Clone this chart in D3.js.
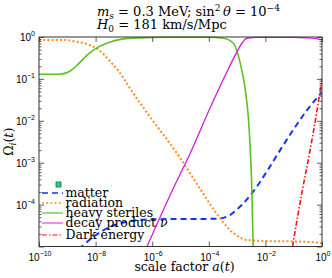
<!DOCTYPE html>
<html>
<head>
<meta charset="utf-8">
<script src="https://cdn.jsdelivr.net/npm/d3@7"></script>
<style>
  body { margin: 0; background: #fff; }
  svg { display: block; }
  .serif { font-family: 'DejaVu Serif', 'Liberation Serif', serif; }
  .tick-label { font-family: 'Liberation Sans', Arial, sans-serif; font-size: 10px; }
</style>
</head>
<body>
<svg id="chart" width="332" height="278"></svg>
<script>
'use strict';

// values, as log10(a) and log10(Omega)
var matterLogA = [-8.6, -8.49, -8.08, -7.49, -6.9, -6.0, -4.0, -3.6, -3.25, -2.9, -2.43, -1.95, -1.48, -1.0, -0.5, 0];
var matterLogOmega = [-5.06, -5.0, -4.77, -4.53, -4.41, -4.35, -4.34, -4.33, -4.25, -4.05, -3.69, -3.21, -2.70, -2.2, -1.72, -1.32];

var radiationLogA = [-10, -9.06, -8.7, -8.23, -7.88, -7.53, -7.17, -6.82, -6.47, -6.17, -5.0, -4.31, -3.6, -3.2, -2.9, -2.72, -2.0, -1.0, -0.5, 0];
var radiationLogOmega = [-0.07, -0.072, -0.11, -0.19, -0.31, -0.55, -0.83, -1.19, -1.54, -1.82, -2.9, -3.62, -4.33, -4.64, -4.78, -4.84, -4.87, -4.88, -4.89, -4.92];

var sterilesLogA = [-10, -9.29, -8.94, -8.59, -8.23, -7.88, -7.53, -7.06, -6.47, -5.5, -4.0, -3.49, -3.13, -2.9, -2.72, -2.6, -2.54, -2.48, -2.43];
var sterilesLogOmega = [-0.89, -0.89, -0.83, -0.63, -0.39, -0.23, -0.13, -0.05, -0.02, -0.006, -0.006, -0.03, -0.15, -0.59, -1.22, -1.94, -2.6, -3.6, -5.1];

var decayLogA = [-6.25, -5.28, -4.66, -3.96, -3.3, -3.01, -2.8, -2.66, -2.3, -1.0, -0.5, -0.2, 0];
var decayLogOmega = [-5.1, -3.65, -2.78, -1.70, -0.75, -0.36, -0.12, -0.03, -0.01, -0.01, -0.02, -0.04, -0.07];

var darkLogA = [-1.1, -1.04, -0.7, -0.42, -0.2, 0];
var darkLogOmega = [-5.25, -5.0, -3.68, -2.70, -1.85, -0.99];

var xTickExps = [-10, -8, -6, -4, -2, 0];
var yTickExps = [-4, -3, -2, -1, 0];

var legendNames = ['matter', 'radiation', 'heavy steriles', 'decay product', 'Dark energy'];

var seriesList = [
  {name: legendNames[0], logA: matterLogA, logOmega: matterLogOmega,
   color: '#1432ff', width: 2, dash: '6,4'},
  {name: legendNames[1], logA: radiationLogA, logOmega: radiationLogOmega,
   color: '#ff8c1e', width: 2, dash: '2,2.2'},
  {name: legendNames[2], logA: sterilesLogA, logOmega: sterilesLogOmega,
   color: '#5cbf22', width: 1.6, dash: null},
  {name: legendNames[3], logA: decayLogA, logOmega: decayLogOmega,
   color: '#d21ed2', width: 1.3, dash: null},
  {name: legendNames[4], logA: darkLogA, logOmega: darkLogOmega,
   color: '#ff1010', width: 1.6, dash: '5,2,1.5,2'}
];

var plotLeft = 39, plotRight = 322, plotTop = 37, plotBottom = 246.5;

var svg = d3.select('#chart');

var x = d3.scaleLog().domain([1e-10, 1]).range([plotLeft, plotRight]);
var y = d3.scaleLog().domain([1e-5, 1]).range([plotBottom, plotTop]);

function pow10(e) { return Math.pow(10, e); }

svg.append('defs').append('clipPath')
    .attr('id', 'plot-clip')
  .append('rect')
    .attr('x', plotLeft).attr('y', plotTop - 1)
    .attr('width', plotRight - plotLeft).attr('height', plotBottom - plotTop + 1);

// curves
var line = d3.line()
    .x(function(d) { return x(d[0]); })
    .y(function(d) { return y(d[1]); })
    .curve(d3.curveMonotoneX);

var plot = svg.append('g').attr('clip-path', 'url(#plot-clip)');

seriesList.forEach(function(s) {
  var pts = s.logA.map(function(la, i) { return [pow10(la), pow10(s.logOmega[i])]; });
  plot.append('path')
      .datum(pts)
      .attr('d', line)
      .attr('fill', 'none')
      .attr('stroke', s.color)
      .attr('stroke-width', s.width)
      .attr('stroke-dasharray', s.dash);
});

// axes, ticks pointing inward
var axisColor = '#333';
var minorY = [];
for (var e = -5; e < 0; e++) {
  for (var m = 2; m <= 9; m++) minorY.push(m * pow10(e));
}
var xTicks = xTickExps.map(pow10);
var yTicks = yTickExps.map(pow10).concat([1e-5]);

function styleAxis(g) {
  g.select('.domain').remove();
  g.selectAll('line').attr('stroke', axisColor).attr('stroke-width', 0.8);
  g.selectAll('text').remove();
}

svg.append('g').attr('transform', 'translate(0,' + plotBottom + ')')
    .call(d3.axisBottom(x).tickValues(xTicks).tickSize(-5)).call(styleAxis);
svg.append('g').attr('transform', 'translate(0,' + plotTop + ')')
    .call(d3.axisTop(x).tickValues(xTicks).tickSize(-5)).call(styleAxis);
svg.append('g').attr('transform', 'translate(' + plotLeft + ',0)')
    .call(d3.axisLeft(y).tickValues(yTicks).tickSize(-5)).call(styleAxis);
svg.append('g').attr('transform', 'translate(' + plotRight + ',0)')
    .call(d3.axisRight(y).tickValues(yTicks).tickSize(-5)).call(styleAxis);
svg.append('g').attr('transform', 'translate(' + plotLeft + ',0)')
    .call(d3.axisLeft(y).tickValues(minorY).tickSize(-2.5)).call(styleAxis);
svg.append('g').attr('transform', 'translate(' + plotRight + ',0)')
    .call(d3.axisRight(y).tickValues(minorY).tickSize(-2.5)).call(styleAxis);

svg.append('rect')
    .attr('x', plotLeft).attr('y', plotTop)
    .attr('width', plotRight - plotLeft).attr('height', plotBottom - plotTop)
    .attr('fill', 'none')
    .attr('stroke', axisColor)
    .attr('stroke-width', 1);

// tick labels as 10^n
function powerLabel(sel, exp) {
  sel.append('tspan').text('10');
  sel.append('tspan')
      .attr('dy', -5)
      .attr('font-size', '7px')
      .text(exp === 0 ? '0' : '\u2212' + Math.abs(exp));
}

xTickExps.forEach(function(exp) {
  var t = svg.append('text')
      .attr('class', 'tick-label')
      .attr('x', x(pow10(exp)) + 1)
      .attr('y', 261)
      .attr('text-anchor', 'middle');
  powerLabel(t, exp);
});

yTickExps.forEach(function(exp) {
  var t = svg.append('text')
      .attr('class', 'tick-label')
      .attr('x', 35)
      .attr('y', y(pow10(exp)) + 4)
      .attr('text-anchor', 'end');
  powerLabel(t, exp);
});

// title
var title = svg.append('g').attr('class', 'serif').attr('font-size', '13px');
var t1 = title.append('text').attr('x', 97).attr('y', 16);
t1.append('tspan').attr('font-style', 'italic').text('m');
t1.append('tspan').attr('font-style', 'italic').attr('font-size', '9px').attr('dy', 3).text('s');
t1.append('tspan').attr('dy', -3).text(' = 0.3 MeV; sin');
t1.append('tspan').attr('font-size', '9px').attr('dy', -5).text('2');
t1.append('tspan').attr('dy', 5).attr('font-style', 'italic').text('\u2009\u03b8');
t1.append('tspan').text(' = 10');
t1.append('tspan').attr('font-size', '9px').attr('dy', -5).text('\u22124');
var t2 = title.append('text').attr('x', 97).attr('y', 29);
t2.append('tspan').attr('font-style', 'italic').text('H');
t2.append('tspan').attr('font-size', '9px').attr('dy', 3).text('0');
t2.append('tspan').attr('dy', -3).text(' = 181 km/s/Mpc');

// axis labels
var xl = svg.append('text').attr('class', 'serif').attr('font-size', '12.5px')
    .attr('x', (plotLeft + plotRight) / 2 + 4).attr('y', 271).attr('text-anchor', 'middle');
xl.append('tspan').text('scale factor ');
xl.append('tspan').attr('font-style', 'italic').text('a');
xl.append('tspan').text('(');
xl.append('tspan').attr('font-style', 'italic').text('t');
xl.append('tspan').text(')');

var yl = svg.append('text').attr('class', 'serif').attr('font-size', '12.5px')
    .attr('transform', 'translate(13,' + (plotTop + plotBottom) / 2 + ') rotate(-90)')
    .attr('text-anchor', 'middle');
yl.append('tspan').text('\u03a9');
yl.append('tspan').attr('font-style', 'italic').attr('font-size', '9px').attr('dy', 3).text('i');
yl.append('tspan').attr('dy', -3).text('(');
yl.append('tspan').attr('font-style', 'italic').text('t');
yl.append('tspan').text(')');

// legend, no box
svg.append('rect')
    .attr('x', 56).attr('y', 182).attr('width', 5).attr('height', 5)
    .attr('fill', '#1ee040').attr('stroke', '#1a5a9a').attr('stroke-width', 0.8);

var legendRowY = [193, 203, 213, 223, 235];
var legend = svg.append('g').attr('class', 'serif').attr('font-size', '12.5px');
seriesList.forEach(function(s, i) {
  var ly = legendRowY[i];
  legend.append('line')
      .attr('x1', 42).attr('x2', 63)
      .attr('y1', ly).attr('y2', ly)
      .attr('stroke', s.color)
      .attr('stroke-width', s.width * 0.75)
      .attr('stroke-dasharray', s.dash);
  var txt = legend.append('text')
      .attr('x', 65.5).attr('y', ly + 4)
      .text(s.name);
  if (i === 3) {
    txt.append('tspan').attr('font-style', 'italic').text(' \u03bd');
  }
});
</script>
</body>
</html>
